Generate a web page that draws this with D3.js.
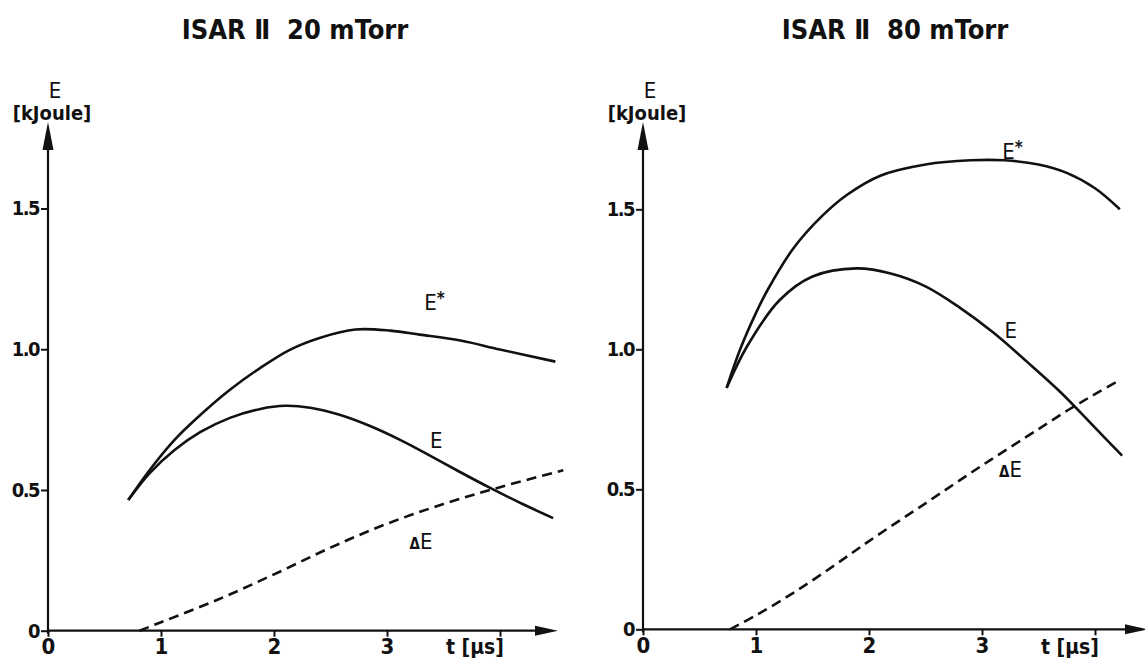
<!DOCTYPE html>
<html><head><meta charset="utf-8">
<script src="https://cdn.jsdelivr.net/npm/d3@7/dist/d3.min.js"></script>
<style>
html,body{margin:0;padding:0;background:#fff;}
svg{display:block;}
text{fill:#111;font-family:"DejaVu Sans Condensed","Liberation Sans Narrow","Liberation Sans",sans-serif;}
</style></head>
<body>
<svg id="chart" width="1145" height="660"></svg>
<script>
// ---- data ----
const titles = ["ISAR \u2161\u00a0 20 mTorr", "ISAR \u2161\u00a0 80 mTorr"];
const xTicks = [0, 1, 2, 3, 4];
const xTickLabels = ["0", "1", "2", "3", ""];
const yTicks = [0, 0.5, 1.0, 1.5];
const yTickLabels = ["0", "0.5", "1.0", "1.5"];
const xAxisLabel = "t [\u03bcs]";
const yAxisLabel = ["E", "[kJoule]"];

// 20 mTorr
const tEstar20 = [0.71, 0.9, 1.12, 1.35, 1.61, 1.88, 2.14, 2.41, 2.72, 3.03, 3.29, 3.65, 4.0, 4.49];
const vEstar20 = [0.464, 0.571, 0.678, 0.767, 0.856, 0.934, 0.998, 1.041, 1.07, 1.066, 1.052, 1.031, 0.999, 0.956];
const tE20 = [0.71, 0.9, 1.12, 1.35, 1.61, 1.88, 2.1, 2.32, 2.58, 2.85, 3.12, 3.38, 3.65, 3.9, 4.2, 4.47];
const vE20 = [0.464, 0.56, 0.642, 0.706, 0.756, 0.788, 0.799, 0.792, 0.767, 0.727, 0.677, 0.622, 0.563, 0.51, 0.45, 0.40];
const tDE20 = [0.81, 1.0, 1.5, 2.0, 2.5, 3.0, 3.5, 4.0, 4.56];
const vDE20 = [0, 0.03, 0.11, 0.20, 0.295, 0.38, 0.45, 0.51, 0.57];

// 80 mTorr
const tEstar80 = [0.74, 0.86, 1.0, 1.1, 1.33, 1.57, 1.8, 2.1, 2.5, 2.9, 3.2, 3.5, 3.75, 4.0, 4.22];
const vEstar80 = [0.862, 1.0, 1.13, 1.21, 1.36, 1.47, 1.55, 1.62, 1.66, 1.675, 1.675, 1.66, 1.63, 1.575, 1.50];
const tE80 = [0.74, 0.92, 1.21, 1.5, 1.89, 2.2, 2.5, 2.8, 3.1, 3.4, 3.7, 4.0, 4.24];
const vE80 = [0.862, 1.01, 1.176, 1.26, 1.289, 1.27, 1.225, 1.15, 1.06, 0.955, 0.845, 0.72, 0.62];
const tDE80 = [0.77, 1.0, 1.35, 1.7, 2.0, 2.5, 3.0, 3.5, 3.77, 4.0, 4.22];
const vDE80 = [0, 0.05, 0.135, 0.23, 0.315, 0.45, 0.585, 0.715, 0.785, 0.84, 0.89];

const seriesNames = ["E*", "E", "\u0394E"];

// ---- layout ----
const panels = [
  { title: titles[0], x0: 48, y0: 630.7, yTop: 208.5, titleX: 295, arrowX: 558, arrowY: 122,
    series: [[tEstar20, vEstar20], [tE20, vE20], [tDE20, vDE20]],
    labels: [[3.33, 1.14], [3.38, 0.65], [3.2, 0.29]] },
  { title: titles[1], x0: 643, y0: 629.3, yTop: 209.3, titleX: 895, arrowX: 1148, arrowY: 122,
    series: [[tEstar80, vEstar80], [tE80, vE80], [tDE80, vDE80]],
    labels: [[3.18, 1.68], [3.2, 1.04], [3.15, 0.545]] }
];

const svg = d3.select("#chart");
svg.append("rect").attr("width", 1145).attr("height", 660).attr("fill", "#fff");
const ink = "#111";

panels.forEach(p => {
  const x = d3.scaleLinear().domain([0, 4]).range([p.x0, p.x0 + 452]);
  const y = d3.scaleLinear().domain([0, 1.5]).range([p.y0, p.yTop]);
  const g = svg.append("g");

  // title
  g.append("text").attr("x", p.titleX).attr("y", 39).attr("text-anchor", "middle")
    .attr("font-size", 27).attr("font-weight", "bold").text(p.title);

  // axis lines + arrows
  g.append("line").attr("x1", x(0)).attr("x2", x(0)).attr("y1", y(0) + 3).attr("y2", p.arrowY + 20)
    .attr("stroke", ink).attr("stroke-width", 2.2);
  g.append("path").attr("d", `M${x(0)},${p.arrowY} L${x(0) - 5.5},${p.arrowY + 28} L${x(0) + 5.5},${p.arrowY + 28} Z`)
    .attr("fill", ink);
  g.append("line").attr("x1", x(0)).attr("x2", p.arrowX - 15).attr("y1", y(0)).attr("y2", y(0))
    .attr("stroke", ink).attr("stroke-width", 2.2);
  g.append("path").attr("d", `M${p.arrowX},${y(0)} L${p.arrowX - 23},${y(0) - 5} L${p.arrowX - 23},${y(0) + 5} Z`)
    .attr("fill", ink);

  // axes with ticks
  const xAxis = d3.axisBottom(x).tickValues(xTicks).tickSize(6).tickPadding(2)
    .tickFormat((d, i) => xTickLabels[i]);
  const gx = g.append("g").attr("transform", `translate(0,${y(0)})`).call(xAxis);
  gx.select(".domain").remove();
  gx.selectAll(".tick line").attr("stroke", ink).attr("stroke-width", 2);
  gx.selectAll(".tick text").attr("font-size", 22).attr("font-weight", "bold").attr("fill", ink).attr("font-family", null);

  const yAxis = d3.axisLeft(y).tickValues(yTicks).tickSize(7).tickPadding(2)
    .tickFormat((d, i) => yTickLabels[i]);
  const gy = g.append("g").attr("transform", `translate(${x(0)},0)`).call(yAxis);
  gy.select(".domain").remove();
  gy.selectAll(".tick line").attr("stroke", ink).attr("stroke-width", 2);
  gy.selectAll(".tick text").attr("font-size", 20).attr("font-weight", "bold").attr("fill", ink).attr("font-family", null)
    .attr("letter-spacing", -1.5);

  // axis labels
  g.append("text").attr("x", x(0) + 7).attr("y", 98).attr("text-anchor", "middle")
    .attr("font-size", 22).text(yAxisLabel[0]);
  g.append("text").attr("x", x(0) + 4).attr("y", 120).attr("text-anchor", "middle")
    .attr("font-size", 20).attr("font-weight", "bold").text(yAxisLabel[1]);
  g.append("text").attr("x", x(4) + 4).attr("y", 654).attr("text-anchor", "end")
    .attr("font-size", 21).attr("font-weight", "bold").text(xAxisLabel);

  // curves
  const line = d3.line().x(d => x(d[0])).y(d => y(d[1])).curve(d3.curveCatmullRom.alpha(0.5));
  p.series.forEach((s, i) => {
    const pts = s[0].map((t, j) => [t, s[1][j]]);
    g.append("path").attr("d", line(pts)).attr("fill", "none").attr("stroke", ink)
      .attr("stroke-width", 2.6).attr("stroke-dasharray", i === 2 ? "10,6" : null);
  });

  // series labels
  p.labels.forEach((l, i) => {
    const t = g.append("text").attr("x", x(l[0])).attr("y", y(l[1])).attr("font-size", 22);
    if (i === 0) {
      t.append("tspan").text("E");
      t.append("tspan").attr("dy", -6).attr("font-size", 17).attr("font-weight", "bold").text("*");
    } else if (i === 2) {
      t.append("tspan").attr("font-size", 15).attr("font-weight", "bold").text("\u0394");
      t.append("tspan").text("E");
    } else {
      t.text(seriesNames[i]);
    }
  });
});
</script>
</body></html>
